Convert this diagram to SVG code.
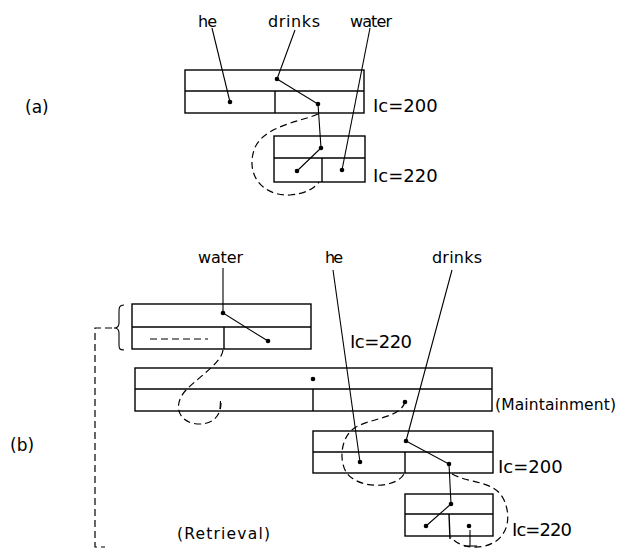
<svg xmlns="http://www.w3.org/2000/svg" width="617" height="550" viewBox="0 0 617 550">
<style>
.box{fill:none;stroke:#000;stroke-width:1.4}
.ln{fill:none;stroke:#000;stroke-width:1.1}
.dash{fill:none;stroke:#000;stroke-width:1.2;stroke-dasharray:7 4}
.dot{fill:#000}
.t{font-family:"DejaVu Sans",sans-serif;fill:#000}
.w{font-size:16px}
.ic{font-size:18px}
</style>
<rect width="617" height="550" fill="#fff"/>

<g id="a-label"><text class="t" x="25" y="113" font-size="17">(a)</text></g>
<g id="b-label"><text class="t" x="10" y="451" font-size="17">(b)</text></g>

<!-- part (a) -->
<g id="a-words">
<text class="t w" x="198" y="27" textLength="19">he</text>
<text class="t w" x="268" y="27" textLength="52">drinks</text>
<text class="t w" x="350" y="27" textLength="42">water</text>
</g>
<g id="a-node-200">
<rect class="box" x="185" y="70" width="179" height="43"/>
<line class="box" x1="185" y1="91" x2="364" y2="91"/>
<line class="box" x1="275" y1="91" x2="275" y2="113"/>
<text class="t ic" x="373" y="112">Ic=200</text>
</g>
<g id="a-node-220">
<rect class="box" x="274" y="136" width="91" height="46"/>
<line class="box" x1="274" y1="158" x2="365" y2="158"/>
<line class="box" x1="322" y1="158" x2="322" y2="182"/>
<text class="t ic" x="373" y="182">Ic=220</text>
</g>

<!-- part (b) -->
<g id="b-words">
<text class="t w" x="198" y="263" textLength="45">water</text>
<text class="t w" x="325" y="263" textLength="18">he</text>
<text class="t w" x="432" y="263" textLength="50">drinks</text>
</g>
<g id="b-node-water">
<rect class="box" x="132" y="304" width="179" height="45"/>
<line class="box" x1="132" y1="327" x2="311" y2="327"/>
<line class="box" x1="224" y1="327" x2="224" y2="349"/>
<line class="dash" x1="150" y1="339" x2="208" y2="339" stroke-dasharray="9 5"/>
<path class="ln" d="M124,305 C119,305 119,308 119,312 L119,323 C119,326 117,328 114,328 C117,328 119,330 119,333 L119,345 C119,348 119,350 124,350"/>
</g>
<g id="b-node-main">
<rect class="box" x="135" y="368" width="357" height="43"/>
<line class="box" x1="135" y1="389" x2="492" y2="389"/>
<line class="box" x1="313" y1="389" x2="313" y2="411"/>
<circle class="dot" cx="313" cy="379" r="2.3"/>
<text class="t" x="495" y="410" font-size="15.5" textLength="121">(Maintainment)</text>
</g>
<g id="b-ic220-top"><text class="t ic" x="350" y="348" textLength="62">Ic=220</text></g>
<g id="b-node-200">
<rect class="box" x="313" y="431" width="180" height="42"/>
<line class="box" x1="313" y1="452" x2="493" y2="452"/>
<line class="box" x1="405" y1="452" x2="405" y2="473"/>
<text class="t ic" x="498" y="473">Ic=200</text>
</g>
<g id="b-node-220">
<rect class="box" x="405" y="494" width="88" height="42"/>
<line class="box" x1="405" y1="514" x2="493" y2="514"/>
<line class="box" x1="449" y1="514" x2="450" y2="539"/>
<text class="t ic" x="512" y="536" textLength="60">Ic=220</text>
</g>
<g id="b-retrieval"><text class="t" x="177" y="539" font-size="15.5" textLength="93">(Retrieval)</text></g>

<g id="connectors">
<!-- (a) -->
<polyline class="ln" points="212,28 230,102"/>
<polyline class="ln" points="295,30 277,79 318,104 321,148 297,171"/>
<polyline class="ln" points="370,28 342,170"/>
<path class="dash" d="M318,114 C300,122 262,126 254,150 C246,175 262,196 290,195 C305,194 315,188 319,182"/>
<!-- (b) -->
<polyline class="ln" points="223,268 223,313 268,341"/>
<path class="dash" d="M223,350 C222,362 200,376 186,390 C172,405 178,424 200,424 C215,424 221,413 221,403"/>
<line class="ln" x1="220.5" y1="401" x2="220" y2="409" stroke-width="2"/>
<polyline class="ln" points="333,270 360,462"/>
<polyline class="ln" points="452,270 406,441 449,464 451,504 426,526"/>
<path class="dash" d="M405,402 C400,418 372,418 356,427 C338,437 338,470 352,478 C368,490 398,486 404,474"/>
<path class="dash" d="M452,474 C470,484 495,480 504,500 C512,518 508,540 485,546 C468,550 455,543 451,537"/>
<line class="ln" x1="470" y1="530" x2="470" y2="546" stroke-width="1.8"/>
<line class="ln" x1="464" y1="546" x2="477" y2="546" stroke-width="1.6"/>
<polyline class="dash" points="112,328 95,328 95,547 105,547" stroke-dasharray="10 6"/>
<circle class="dot" cx="230" cy="102" r="2.3"/>
<circle class="dot" cx="277" cy="79" r="2.3"/>
<circle class="dot" cx="318" cy="104" r="2.3"/>
<circle class="dot" cx="321" cy="148" r="2.3"/>
<circle class="dot" cx="297" cy="171" r="2.3"/>
<circle class="dot" cx="342" cy="170" r="2.3"/>
<circle class="dot" cx="223" cy="313" r="2.3"/>
<circle class="dot" cx="268" cy="341" r="2.3"/>
<circle class="dot" cx="405" cy="402" r="2.3"/>
<circle class="dot" cx="360" cy="462" r="2.3"/>
<circle class="dot" cx="406" cy="441" r="2.3"/>
<circle class="dot" cx="449" cy="464" r="2.3"/>
<circle class="dot" cx="451" cy="504" r="2.3"/>
<circle class="dot" cx="426" cy="526" r="2.3"/>
<circle class="dot" cx="469" cy="526" r="2.3"/>
</g>
</svg>
